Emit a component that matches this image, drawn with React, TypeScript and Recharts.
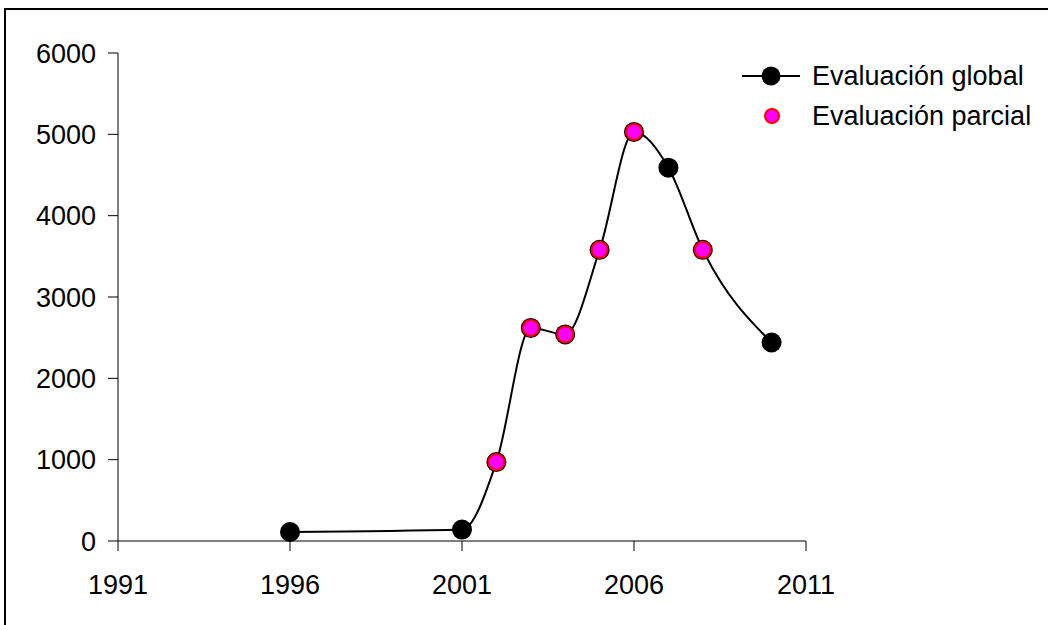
import React from 'react';
import { ComposedChart, Line, XAxis, YAxis } from 'recharts';

// all points of the curve (black markers)
const years = [1996, 2001, 2002, 2003, 2004, 2005, 2006, 2007, 2008, 2010];
const globalValues = [110, 140, 970, 2620, 2540, 3580, 5030, 4590, 3580, 2440];

// partial evaluations (magenta markers drawn on top)
const partialYears = [2002, 2003, 2004, 2005, 2006, 2008];
const partialValues = [970, 2620, 2540, 3580, 5030, 3580];

const xTicks = [1991, 1996, 2001, 2006, 2011];
const yTicks = [0, 1000, 2000, 3000, 4000, 5000, 6000];
const seriesNames = ['Evaluación global', 'Evaluación parcial'];

const globalData = years.map((year, i) => ({ year, value: globalValues[i] }));
const partialData = partialYears.map((year, i) => ({ year, value: partialValues[i] }));

const font = "'Liberation Sans', Arial, sans-serif";
const tickStyle = { fill: '#000', fontSize: 27, fontFamily: font };

const PartialDot = (props: any) => {
	const { cx, cy, key } = props;
	return <circle key={ key } cx={ cx } cy={ cy } r={ 8 } fill="#FF00FF" stroke="#FF0000" strokeWidth={ 2 } />;
};

const LegendBox = () => (
	<div style={ { position: 'absolute', left: 742, top: 56, fontFamily: font, fontSize: 27, color: '#000', whiteSpace: 'nowrap' } }>
		<div style={ { display: 'flex', alignItems: 'center', height: 40 } }>
			<svg width={ 60 } height={ 40 }>
				<line x1={ 0 } y1={ 20 } x2={ 58 } y2={ 20 } stroke="#000" strokeWidth={ 2 } />
				<circle cx={ 29 } cy={ 20 } r={ 9.5 } fill="#000" />
			</svg>
			<span style={ { marginLeft: 10 } }>{ seriesNames[0] }</span>
		</div>
		<div style={ { display: 'flex', alignItems: 'center', height: 40 } }>
			<svg width={ 60 } height={ 40 }>
				<circle cx={ 30 } cy={ 20 } r={ 7 } fill="#FF00FF" stroke="#FF0000" strokeWidth={ 2 } />
			</svg>
			<span style={ { marginLeft: 10 } }>{ seriesNames[1] }</span>
		</div>
	</div>
);

export default function App() {
	return (
		<div style={ { position: 'absolute', left: 0, top: 0, width: 1048, height: 625, overflow: 'hidden', background: '#fff' } }>
			<div style={ { position: 'absolute', left: 4, top: 8, width: 1100, height: 700, border: '2px solid #000' } } />
			<div style={ { position: 'absolute', left: 0, top: 0 } }>
				<ComposedChart width={ 1048 } height={ 625 } margin={ { top: 53, right: 242, bottom: 34, left: 0 } }>
					<XAxis
						type="number"
						dataKey="year"
						domain={ [1991, 2011] }
						ticks={ xTicks }
						allowDataOverflow
						height={ 50 }
						stroke="#000"
						tickSize={ 10 }
						tickMargin={ 24 }
						tick={ tickStyle }
					/>
					<YAxis
						type="number"
						domain={ [0, 6000] }
						ticks={ yTicks }
						width={ 118 }
						stroke="#000"
						tickSize={ 10 }
						tickMargin={ 12 }
						tick={ tickStyle }
					/>
					<Line
						data={ globalData }
						dataKey="value"
						name={ seriesNames[0] }
						type="monotone"
						stroke="#000"
						strokeWidth={ 2 }
						dot={ { r: 10, fill: '#000', stroke: 'none' } }
						activeDot={ false }
						isAnimationActive={ false }
					/>
					<Line
						data={ partialData }
						dataKey="value"
						name={ seriesNames[1] }
						stroke="none"
						dot={ <PartialDot /> }
						activeDot={ false }
						isAnimationActive={ false }
					/>
				</ComposedChart>
			</div>
			<LegendBox />
		</div>
	);
}
